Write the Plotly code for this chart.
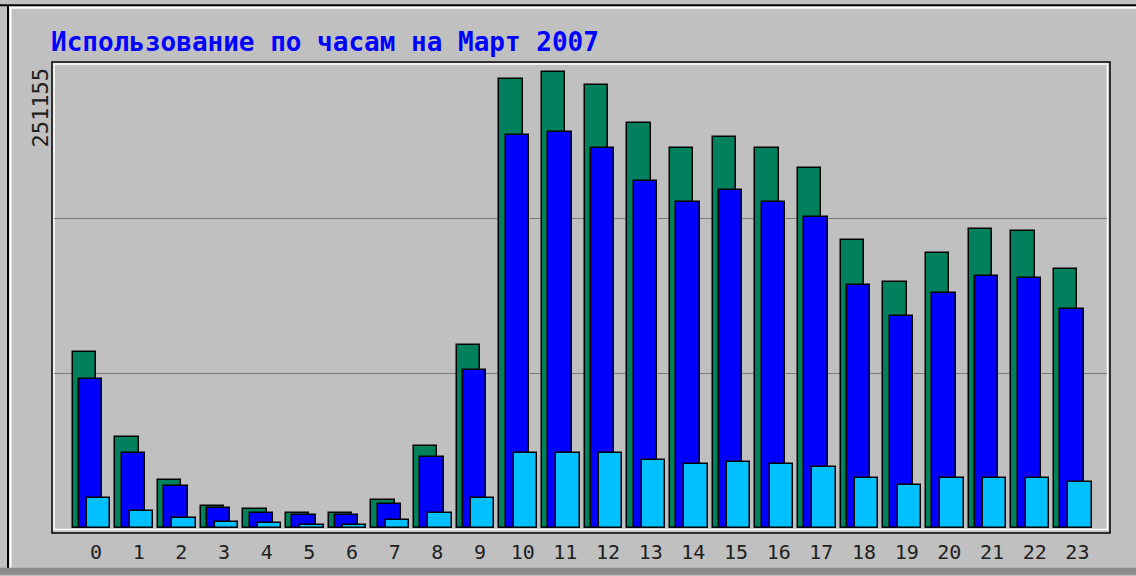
import plotly.graph_objects as go

hours = list(range(24))
hour_labels = [str(h) for h in hours]

# Hits (green)
hits = [95200, 49200, 26000, 11700, 10400, 8100, 8100, 15300, 44400, 99200,
        243100, 246700, 239800, 219200, 205500, 211600, 205500, 194700,
        155900, 133000, 148800, 162100, 160600, 140100]
# Files (blue)
files = [80800, 40800, 22600, 10600, 8200, 7000, 7000, 13100, 38400, 85700,
         212900, 214300, 205700, 187600, 176600, 182700, 176600, 168300,
         131700, 114800, 127000, 136500, 135300, 118600]
# Pages (cyan)
pages = [16200, 9000, 5400, 3100, 2900, 1600, 1400, 4500, 8100, 16200,
         40400, 40400, 40400, 36800, 34500, 35600, 34500, 33100,
         27300, 23300, 27300, 27300, 27300, 24800]

y_max = 251155
title_text = "Использование по часам на Март 2007"

W, H = 1136, 576
L, R, T, B = 54, 1107, 64, 530
pw, ph = R - L, B - T

def px(x):
    return (x - L) / pw

def py(y):
    return (B - y) / ph

bar_w = 0.546
fig = go.Figure()
fig.add_trace(go.Bar(x=hours, y=hits, width=bar_w, offset=-0.546,
                     marker=dict(color="#00805C", line=dict(color="#000000", width=1.5)),
                     name="Hits"))
fig.add_trace(go.Bar(x=hours, y=files, width=bar_w, offset=-0.398,
                     marker=dict(color="#0000FF", line=dict(color="#000000", width=1.5)),
                     name="Files"))
fig.add_trace(go.Bar(x=hours, y=pages, width=bar_w, offset=-0.211,
                     marker=dict(color="#00C0FF", line=dict(color="#000000", width=1.5)),
                     name="Pages"))

shapes = [
    # outer frame of image
    dict(type="line", xref="paper", yref="paper", x0=px(0), x1=px(W), y0=py(5), y1=py(5),
         line=dict(color="#000000", width=2), layer="above"),
    dict(type="line", xref="paper", yref="paper", x0=px(9), x1=px(W), y0=py(7.5), y1=py(7.5),
         line=dict(color="#FFFFFF", width=2), layer="above"),
    dict(type="line", xref="paper", yref="paper", x0=px(8), x1=px(8), y0=py(5), y1=py(572),
         line=dict(color="#000000", width=2), layer="above"),
    dict(type="line", xref="paper", yref="paper", x0=px(10.5), x1=px(10.5), y0=py(7), y1=py(570),
         line=dict(color="#FFFFFF", width=2), layer="above"),
    dict(type="rect", xref="paper", yref="paper", x0=px(0), x1=px(W), y0=py(570), y1=py(577),
         line=dict(width=0), fillcolor="#8C8C8C", layer="above"),
    # plot frame
    dict(type="rect", xref="paper", yref="paper", x0=px(52), x1=px(1110), y0=py(535), y1=py(62),
         line=dict(color="#000000", width=1.5), layer="below"),
    dict(type="rect", xref="paper", yref="paper", x0=px(54), x1=px(1107.5), y0=py(531.5), y1=py(64),
         line=dict(color="#FFFFFF", width=1.5), layer="below"),
]

annotations = [
    dict(text=title_text, xref="paper", yref="paper", x=px(49), y=py(42),
         xanchor="left", yanchor="middle", showarrow=False,
         font=dict(family="DejaVu Sans Mono", size=26, color="#0000FF", weight="bold")),
    dict(text=str(y_max), xref="paper", yref="paper", x=px(40), y=py(67),
         xanchor="center", yanchor="top", textangle=-90, showarrow=False,
         font=dict(family="DejaVu Sans Mono", size=22, color="#202020")),
]

fig.update_layout(
    width=W, height=H,
    margin=dict(l=L, r=W - R, t=T, b=H - B, pad=0),
    paper_bgcolor="#C0C0C0", plot_bgcolor="#C0C0C0",
    barmode="overlay", showlegend=False, bargap=0,
    shapes=shapes, annotations=annotations,
    xaxis=dict(range=[-0.984, 23.694], tickvals=hours, ticktext=hour_labels,
               showgrid=False, zeroline=False, showline=False, ticks="",
               ticklabelstandoff=10,
               tickfont=dict(family="DejaVu Sans Mono", size=20, color="#202020"),
               fixedrange=True),
    yaxis=dict(range=[0, y_max], tickvals=[y_max / 3, 2 * y_max / 3],
               showticklabels=False, showgrid=True, gridcolor="#7A7A7A", gridwidth=1,
               zeroline=False, showline=False, ticks="", fixedrange=True),
)

fig.write_html(
    "out.html",
    config={"displayModeBar": False},
    post_script="document.body.style.margin='0';document.body.style.overflow='hidden';",
)
